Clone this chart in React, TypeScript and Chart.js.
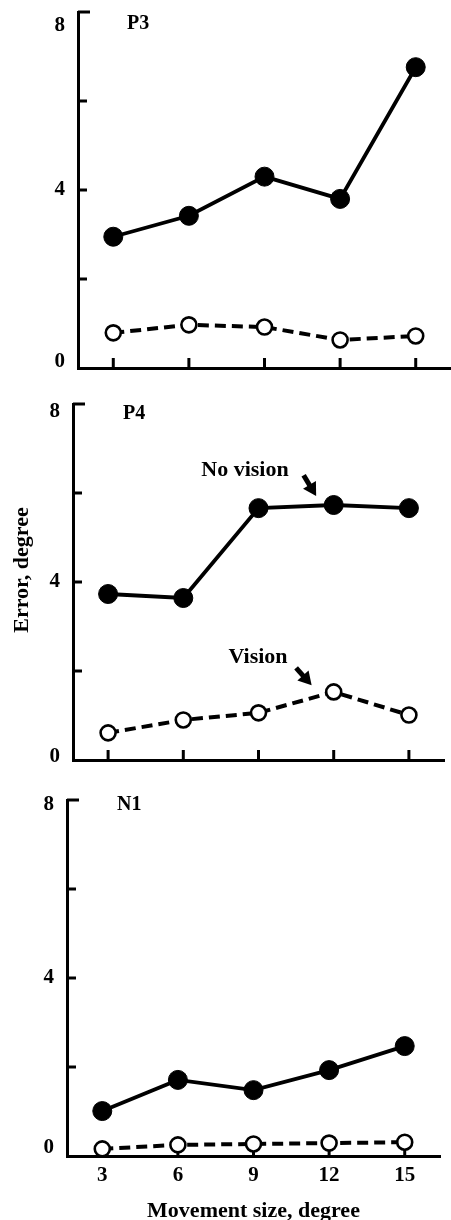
import React, { useEffect, useRef } from 'react';
import { Chart, registerables } from 'chart.js';

Chart.register(...registerables);

// ---- data ----
const MOVEMENT_SIZES = [3, 6, 9, 12, 15];
const Y_TICKS = [0, 2, 4, 6, 8];
const Y_LABELED = [0, 4, 8];

const P3_NO_VISION = [2.95, 3.42, 4.3, 3.8, 6.76];
const P3_VISION = [0.79, 0.97, 0.92, 0.63, 0.72];
const P4_NO_VISION = [3.73, 3.64, 5.66, 5.73, 5.66];
const P4_VISION = [0.61, 0.9, 1.06, 1.53, 1.01];
const N1_NO_VISION = [1.01, 1.71, 1.48, 1.93, 2.47];
const N1_VISION = [0.16, 0.25, 0.27, 0.29, 0.31];

const SERIES_NAMES = ['No vision', 'Vision'];
const X_TITLE = 'Movement size, degree';
const Y_TITLE = 'Error, degree';

const SERIF = '"Liberation Serif", "DejaVu Serif", serif';

// ---- layout (page pixels) ----
const PANELS = [
  {
    name: 'P3', noVision: P3_NO_VISION, vision: P3_VISION,
    top: 0, height: 390, padTop: 12, left: 78, right: 451, showX: false,
    nameX: 127, nameY: 24, yTitle: false, notes: false, topShift: 14, zeroShift: 6,
  },
  {
    name: 'P4', noVision: P4_NO_VISION, vision: P4_VISION,
    top: 390, height: 395, padTop: 14, left: 73, right: 444, showX: false,
    nameX: 123, nameY: 24, yTitle: true, notes: true, topShift: 8, zeroShift: 3,
  },
  {
    name: 'N1', noVision: N1_NO_VISION, vision: N1_VISION,
    top: 785, height: 435, padTop: 15, left: 67, right: 440, showX: true,
    nameX: 117, nameY: 20, yTitle: false, notes: false, topShift: 5, zeroShift: 8,
  },
];

const X_MIN = 1.6;
const X_MAX = 16.4;

function drawArrow(ctx, x1, y1, x2, y2) {
  const ang = Math.atan2(y2 - y1, x2 - x1);
  const headLen = 13;
  const headHalf = 7.5;
  const bx = x2 - Math.cos(ang) * headLen;
  const by = y2 - Math.sin(ang) * headLen;
  ctx.beginPath();
  ctx.moveTo(x1, y1);
  ctx.lineTo(bx + Math.cos(ang) * 2, by + Math.sin(ang) * 2);
  ctx.lineWidth = 5;
  ctx.stroke();
  ctx.beginPath();
  ctx.moveTo(x2, y2);
  ctx.lineTo(bx + Math.sin(ang) * headHalf, by - Math.cos(ang) * headHalf);
  ctx.lineTo(bx - Math.sin(ang) * headHalf, by + Math.cos(ang) * headHalf);
  ctx.closePath();
  ctx.fill();
}

function makeDecor(cfg) {
  return {
    id: 'decor',
    beforeDatasetsDraw(chart) {
      const { ctx, chartArea, scales } = chart;
      const x = scales.x;
      const y = scales.y;
      ctx.save();
      ctx.strokeStyle = '#000';
      ctx.lineWidth = 3;
      for (const v of Y_TICKS) {
        if (v === 0) continue;
        const py = y.getPixelForValue(v);
        ctx.beginPath();
        ctx.moveTo(chartArea.left, py);
        ctx.lineTo(chartArea.left + (v === 8 ? 12 : 9), py);
        ctx.stroke();
      }
      for (const v of MOVEMENT_SIZES) {
        const px = x.getPixelForValue(v);
        ctx.beginPath();
        ctx.moveTo(px, chartArea.bottom);
        ctx.lineTo(px, chartArea.bottom - 10);
        ctx.stroke();
      }
      ctx.restore();
    },
    afterDraw(chart) {
      const { ctx, scales } = chart;
      const x = scales.x;
      const y = scales.y;
      ctx.save();
      ctx.fillStyle = '#000';
      ctx.strokeStyle = '#000';
      ctx.font = `bold 20px ${SERIF}`;
      ctx.textAlign = 'left';
      ctx.textBaseline = 'middle';
      ctx.fillText(cfg.name, cfg.nameX, cfg.nameY);

      if (cfg.yTitle) {
        ctx.save();
        ctx.translate(22, 180);
        ctx.rotate(-Math.PI / 2);
        ctx.font = `bold 22px ${SERIF}`;
        ctx.textAlign = 'center';
        ctx.textBaseline = 'middle';
        ctx.fillText(Y_TITLE, 0, 0);
        ctx.restore();
      }
      if (cfg.notes) {
        ctx.font = `bold 22px ${SERIF}`;
        ctx.textAlign = 'center';
        ctx.textBaseline = 'middle';
        ctx.fillText(SERIES_NAMES[0], x.getPixelForValue(8.46), y.getPixelForValue(6.52));
        drawArrow(ctx, x.getPixelForValue(10.8), y.getPixelForValue(6.4), x.getPixelForValue(11.3), y.getPixelForValue(5.93));
        ctx.fillText(SERIES_NAMES[1], x.getPixelForValue(8.98), y.getPixelForValue(2.31));
        drawArrow(ctx, x.getPixelForValue(10.5), y.getPixelForValue(2.07), x.getPixelForValue(11.12), y.getPixelForValue(1.68));
      }
      ctx.restore();
    },
  };
}

function Panel({ cfg }) {
  const ref = useRef(null);
  useEffect(() => {
    const toPts = (arr) => MOVEMENT_SIZES.map((v, i) => ({ x: v, y: arr[i] }));
    const xAxisHeight = cfg.height - (cfg.padTop + 356);
    const chart = new Chart(ref.current, {
      type: 'line',
      data: {
        datasets: [
          {
            label: SERIES_NAMES[0],
            data: toPts(cfg.noVision),
            borderColor: '#000',
            borderWidth: 3.8,
            pointRadius: 9.5,
            pointBackgroundColor: '#000',
            pointBorderColor: '#000',
            pointBorderWidth: 1,
            tension: 0,
            clip: false,
          },
          {
            label: SERIES_NAMES[1],
            data: toPts(cfg.vision),
            borderColor: '#000',
            borderWidth: 4,
            borderDash: [11, 6],
            pointRadius: 7.5,
            pointBackgroundColor: '#fff',
            pointBorderColor: '#000',
            pointBorderWidth: 2.6,
            tension: 0,
            clip: false,
          },
        ],
      },
      options: {
        animation: false,
        responsive: false,
        devicePixelRatio: 1,
        layout: { autoPadding: false, padding: { top: cfg.padTop, left: 0, right: 451 - cfg.right, bottom: 0 } },
        plugins: { legend: { display: false }, tooltip: { enabled: false } },
        scales: {
          x: {
            type: 'linear',
            min: X_MIN,
            max: X_MAX,
            afterBuildTicks: (s) => { s.ticks = MOVEMENT_SIZES.map((v) => ({ value: v })); },
            afterFit: (s) => {
              s.height = xAxisHeight;
              s.paddingLeft = 0;
              s.paddingRight = 0;
              s.paddingTop = 0;
              s.paddingBottom = 0;
            },
            grid: { display: false, drawTicks: false },
            border: { display: true, color: '#000', width: 3 },
            ticks: {
              display: cfg.showX,
              color: '#000',
              padding: 7,
              maxRotation: 0,
              font: { family: SERIF, size: 21, weight: 'bold' },
            },
            title: {
              display: cfg.showX,
              text: X_TITLE,
              color: '#000',
              padding: 0,
              font: { family: SERIF, size: 22, weight: 'bold', lineHeight: 0.8 },
            },
          },
          y: {
            type: 'linear',
            min: 0,
            max: 8,
            afterBuildTicks: (s) => { s.ticks = Y_TICKS.map((v) => ({ value: v })); },
            afterFit: (s) => {
              s.width = cfg.left;
              s.paddingLeft = 0;
              s.paddingRight = 0;
              s.paddingTop = 0;
              s.paddingBottom = 0;
            },
            grid: { display: false, drawTicks: false },
            border: { display: true, color: '#000', width: 3 },
            ticks: {
              color: '#000',
              padding: 13,
              font: (c) => {
                const v = c.tick ? c.tick.value : 0;
                const shift = v === 8 ? cfg.topShift : v === 0 ? cfg.zeroShift : 10;
                return { family: SERIF, size: 21, weight: 'bold', lineHeight: `${shift * 2}px` };
              },
              callback: (v) => {
                const n = Number(v);
                if (!Y_LABELED.includes(n)) return '';
                if (n === 8) return ['', String(n)];
                if (n === 0) return [String(n), ''];
                return String(n);
              },
            },
          },
        },
      },
      plugins: [makeDecor(cfg)],
    });
    return () => chart.destroy();
  }, []);
  return (
    <canvas
      ref={ref}
      width={451}
      height={cfg.height}
      style={{ position: 'absolute', left: 0, top: cfg.top, width: 451, height: cfg.height }}
    />
  );
}

export default function App() {
  return (
    <div style={{ position: 'absolute', left: 0, top: 0, width: 451, height: 1220, background: '#fff', overflow: 'hidden' }}>
      {PANELS.map((p) => (
        <Panel key={p.name} cfg={p} />
      ))}
    </div>
  );
}
